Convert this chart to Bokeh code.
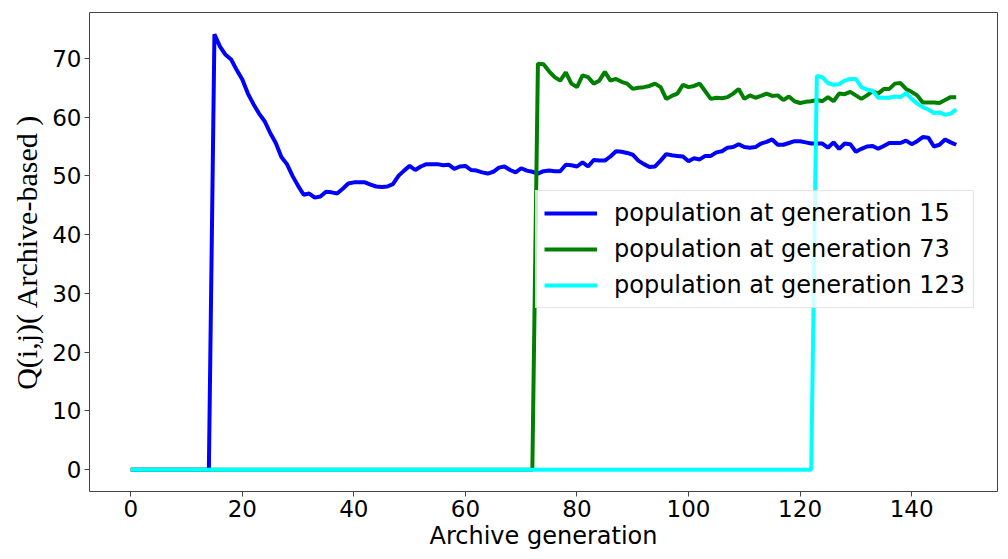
from bokeh.plotting import figure
from bokeh.models import Range1d, Legend, LegendItem, FixedTicker
from bokeh.embed import file_html
from bokeh.resources import INLINE

# Archive generations on the x axis
generations = list(range(0, 149))

# population at generation 15 (values from generation 15 onwards; 0 before)
blue_label = "population at generation 15"
blue_start = 15
blue_vals = [74.1, 72.0, 70.6, 69.8, 68.0, 66.4, 64.0, 62.2, 60.6, 59.3,
             57.3, 55.6, 53.2, 52.0, 50.0, 48.3, 46.8, 47.0, 46.3, 46.5,
             47.3, 47.2, 47.0, 47.8, 48.7, 48.9, 48.9, 48.9, 48.5, 48.2,
             48.1, 48.2, 48.6, 50.0, 50.9, 51.7, 51.0, 51.6, 52.0, 52.0,
             52.0, 51.8, 51.9, 51.2, 51.6, 51.7, 51.0, 50.9, 50.6, 50.4,
             50.7, 51.4, 51.6, 51.0, 50.6, 51.3, 50.9, 50.7, 50.4, 50.8,
             50.9, 50.8, 50.8, 51.9, 51.8, 51.6, 52.3, 51.6, 52.7, 52.6,
             52.6, 53.3, 54.2, 54.1, 53.9, 53.6, 52.6, 52.0, 51.5, 51.6,
             52.6, 53.7, 53.5, 53.4, 53.3, 52.5, 53.0, 52.8, 53.4, 53.4,
             54.0, 54.2, 54.8, 54.9, 55.4, 54.9, 54.8, 54.9, 55.5, 55.8,
             56.2, 55.3, 55.3, 55.6, 55.9, 55.9, 55.7, 55.5, 55.5, 55.5,
             54.8, 55.7, 54.6, 55.5, 55.4, 54.1, 54.6, 55.0, 55.1, 54.6,
             55.1, 55.6, 55.6, 55.6, 56.0, 55.4, 55.9, 56.6, 56.5, 55.0,
             55.3, 56.2, 55.7, 55.3]

# population at generation 73
green_label = "population at generation 73"
green_start = 73
green_vals = [69.1, 69.0, 67.8, 66.8, 66.2, 67.6, 65.7, 65.1, 67.1, 66.8,
              65.7, 66.2, 67.7, 66.2, 66.5, 66.0, 65.7, 64.8, 65.0, 65.1,
              65.3, 65.7, 65.1, 63.1, 63.6, 64.0, 65.5, 65.1, 65.3, 65.7,
              64.4, 63.1, 63.3, 63.2, 63.4, 64.0, 64.8, 63.1, 63.7, 63.3,
              63.6, 64.0, 63.6, 63.7, 62.9, 63.5, 62.7, 62.4, 62.6, 62.7,
              62.9, 62.7, 63.4, 62.7, 64.0, 63.9, 64.3, 63.7, 63.1, 63.7,
              64.4, 64.0, 64.8, 64.8, 65.7, 65.8, 64.8, 64.3, 63.7, 62.5,
              62.5, 62.5, 62.4, 62.9, 63.4, 63.4]

# population at generation 123
cyan_label = "population at generation 123"
cyan_start = 123
cyan_vals = [67.0, 66.8, 65.8, 65.5, 65.6, 66.2, 66.5, 66.5, 65.1, 64.7,
             64.5, 63.3, 63.3, 63.3, 63.5, 63.4, 64.1, 63.1, 62.3, 61.7,
             61.3, 60.7, 60.8, 60.4, 60.6, 61.3]

x_ticks = [0, 20, 40, 60, 80, 100, 120, 140]
y_ticks = [0, 10, 20, 30, 40, 50, 60, 70]


def full_series(start, vals):
    return [0.0] * start + list(vals)


p = figure(width=1000, height=552, output_backend="svg", toolbar_location=None,
           x_range=Range1d(-7.4, 155.4), y_range=Range1d(-3.7, 77.8),
           min_border_left=89, min_border_right=3, min_border_top=12,
           min_border_bottom=52)

series = [
    (blue_label, blue_start, blue_vals, "#0000ff"),
    (green_label, green_start, green_vals, "#008000"),
    (cyan_label, cyan_start, cyan_vals, "#00ffff"),
]
items = []
for label, start, vals, color in series:
    ys = full_series(start, vals)
    r = p.line(generations[:len(ys)], ys, line_color=color, line_width=4)
    items.append(LegendItem(label=label, renderers=[r]))

p.grid.visible = False
p.outline_line_color = "#444444"
p.outline_line_width = 1

for ax in (p.xaxis[0], p.yaxis[0]):
    ax.axis_line_color = None
    ax.major_tick_line_color = "#444444"
    ax.major_tick_out = 5
    ax.major_tick_in = 0
    ax.minor_tick_line_color = None
    ax.major_label_text_font = "DejaVu Sans"
    ax.major_label_text_font_size = "23px"
    ax.major_label_text_color = "#000000"
    ax.major_label_standoff = 3
    ax.axis_label_text_color = "#000000"

p.xaxis.ticker = FixedTicker(ticks=x_ticks)
p.yaxis.ticker = FixedTicker(ticks=y_ticks)
p.xaxis.axis_label = "Archive generation"
p.xaxis.axis_label_text_font = "DejaVu Sans"
p.xaxis.axis_label_text_font_size = "24px"
p.xaxis.axis_label_text_font_style = "normal"
p.xaxis.axis_label_standoff = 2
p.yaxis.axis_label = "Q(i,j)( Archive-based )"
p.yaxis.axis_label_text_font = "Liberation Serif"
p.yaxis.axis_label_text_font_size = "30px"
p.yaxis.axis_label_text_font_style = "normal"
p.yaxis.axis_label_standoff = 6

legend = Legend(items=items, location=(446, 183),
                label_text_font="DejaVu Sans", label_text_font_size="24px",
                label_text_color="#000000",
                glyph_width=53, glyph_height=28, label_height=28,
                label_standoff=17, padding=8, spacing=8,
                border_line_color="#cccccc", background_fill_alpha=0.8)
p.add_layout(legend, "center")

open("out.html", "w").write(file_html(p, INLINE))
